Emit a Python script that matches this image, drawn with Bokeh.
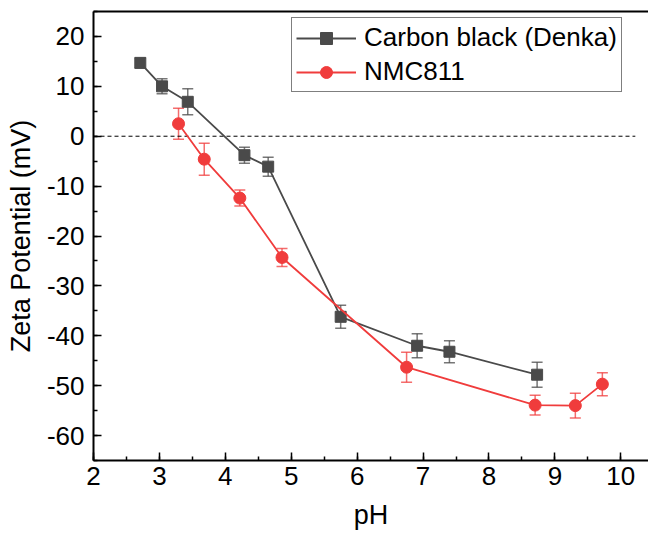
from bokeh.plotting import figure
from bokeh.models import (ColumnDataSource, Whisker, TeeHead, LinearAxis, FixedTicker,
                          SingleIntervalTicker, Legend, LegendItem, Range1d,
                          PrintfTickFormatter)
from bokeh.embed import file_html
from bokeh.resources import INLINE

# ---- data ----
cb_ph = [2.71, 3.04, 3.43, 4.29, 4.65, 5.75, 6.91, 7.40, 8.73]
cb_zeta = [14.7, 10.0, 6.9, -3.8, -6.1, -36.2, -42.0, -43.2, -47.8]
cb_err = [1.0, 1.5, 2.6, 1.6, 1.9, 2.3, 2.4, 2.2, 2.5]

nmc_ph = [3.29, 3.68, 4.22, 4.86, 6.75, 8.70, 9.31, 9.72]
nmc_zeta = [2.5, -4.6, -12.4, -24.3, -46.3, -53.9, -54.0, -49.7]
nmc_err = [3.1, 3.2, 1.6, 1.8, 3.0, 2.0, 2.5, 2.3]

x_ticks_interval = 1
y_ticks_interval = 10

FONT = "Liberation Sans"
GRAY = "#4a4a4a"
RED = "#f03c3c"

p = figure(width=648, height=540, output_backend="svg", toolbar_location=None,
           x_range=Range1d(2, 10.42), y_range=Range1d(-65, 25),
           min_border_left=93, min_border_right=0, min_border_top=11,
           min_border_bottom=80, x_axis_label="pH",
           y_axis_label="Zeta Potential (mV)")
p.grid.visible = False
p.outline_line_color = None
p.background_fill_color = "white"
p.border_fill_color = "white"

for ax, interval in ((p.xaxis[0], x_ticks_interval), (p.yaxis[0], y_ticks_interval)):
    ax.ticker = SingleIntervalTicker(interval=interval, num_minor_ticks=2)
    ax.formatter = PrintfTickFormatter(format="%d")
    ax.axis_line_width = 2
    ax.axis_line_color = "black"
    ax.major_tick_in = 8
    ax.major_tick_out = 0
    ax.minor_tick_in = 4
    ax.minor_tick_out = 0
    ax.major_tick_line_width = 1.5
    ax.minor_tick_line_width = 1.5
    ax.major_label_text_font = FONT
    ax.major_label_text_font_size = "26px"
    ax.major_label_text_color = "black"
    ax.axis_label_text_font = FONT
    ax.axis_label_text_font_size = "27px"
    ax.axis_label_text_font_style = "normal"
    ax.axis_label_text_color = "black"

p.xaxis[0].major_label_standoff = 6
p.xaxis[0].axis_label_standoff = 12
p.yaxis[0].major_label_standoff = 9
p.yaxis[0].axis_label_standoff = 8

top = LinearAxis(axis_line_width=2, ticker=FixedTicker(ticks=[]),
                 major_tick_line_color=None, minor_tick_line_color=None,
                 major_label_standoff=0)
p.add_layout(top, "above")

# zero line
p.line(x=[2, 10.22], y=[0, 0], line_color="black", line_width=1, line_dash="4 3")

# error bars
cb_src = ColumnDataSource(dict(x=cb_ph, y=cb_zeta,
                               upper=[v + e for v, e in zip(cb_zeta, cb_err)],
                               lower=[v - e for v, e in zip(cb_zeta, cb_err)]))
nmc_src = ColumnDataSource(dict(x=nmc_ph, y=nmc_zeta,
                                upper=[v + e for v, e in zip(nmc_zeta, nmc_err)],
                                lower=[v - e for v, e in zip(nmc_zeta, nmc_err)]))

for src, col in ((cb_src, GRAY), (nmc_src, RED)):
    w = Whisker(source=src, base="x", upper="upper", lower="lower",
                line_color=col, line_width=1.5, line_alpha=0.75,
                upper_head=TeeHead(size=11, line_color=col, line_width=1.5, line_alpha=0.75),
                lower_head=TeeHead(size=11, line_color=col, line_width=1.5, line_alpha=0.75))
    p.add_layout(w)

cb_line = p.line("x", "y", source=cb_src, line_color=GRAY, line_width=1.8)
cb_pts = p.scatter("x", "y", source=cb_src, marker="square", size=11,
                   fill_color=GRAY, line_color=GRAY)
nmc_line = p.line("x", "y", source=nmc_src, line_color=RED, line_width=1.8)
nmc_pts = p.scatter("x", "y", source=nmc_src, marker="circle", size=12,
                    fill_color=RED, line_color=RED)

legend = Legend(items=[LegendItem(label="Carbon black (Denka)", renderers=[cb_line, cb_pts]),
                       LegendItem(label="NMC811", renderers=[nmc_line, nmc_pts])],
                location=(198, 368))
legend.label_text_font = FONT
legend.label_text_font_size = "26px"
legend.label_text_color = "black"
legend.glyph_width = 60
legend.glyph_height = 30
legend.label_height = 30
legend.label_standoff = 8
legend.spacing = 3
legend.padding = 4
legend.margin = 0
legend.border_line_color = "black"
legend.border_line_width = 1.5
legend.background_fill_alpha = 1
p.add_layout(legend)

open("out.html", "w").write(file_html(p, INLINE))
